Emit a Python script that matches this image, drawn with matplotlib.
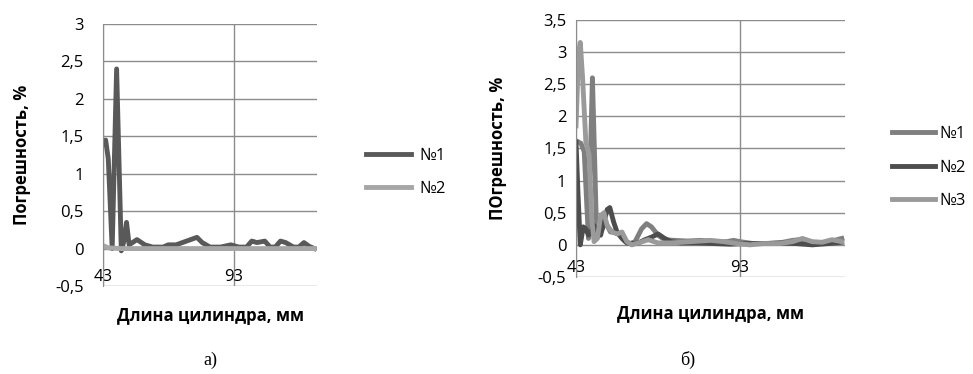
import matplotlib.pyplot as plt
from matplotlib.ticker import FuncFormatter

plt.rcParams['font.family'] = ['Open Sans', 'DejaVu Sans']

# chart a)
a_x1 = [43, 44, 45, 46.5, 48.2, 50, 51, 52, 53, 56, 59, 62, 66, 68, 71, 75, 79, 81, 84, 88,
        92, 95, 98, 100, 102, 105, 107, 109, 111, 113, 116, 118, 120, 122, 124]
a_y1 = [1.4, 1.45, 1.2, 0.0, 2.4, -0.03, 0.1, 0.35, 0.05, 0.12, 0.05, 0.02, 0.02, 0.05, 0.05, 0.1, 0.15, 0.08, 0.02, 0.02,
        0.05, 0.02, 0.02, 0.1, 0.08, 0.1, 0.02, 0.02, 0.1, 0.08, 0.02, 0.02, 0.08, 0.03, 0.0]
a_x2 = [43, 45, 50, 60, 80, 100, 124]
a_y2 = [0.04, 0.01, 0.0, 0.0, 0.0, 0.0, 0.0]

# chart б)
b_x1 = [43, 44.5, 45.5, 46.3, 46.8, 47.3, 48, 48.7, 49.3, 50.5, 52, 53.5, 55, 56.5, 58, 59.5, 61, 63, 64.5, 66,
        68, 70, 73, 77, 81, 85, 89, 91, 93, 97, 101, 105, 109, 111, 113, 116, 119, 121, 124]
b_y1 = [1.62, 1.58, 1.45, 0.6, 0.1, 1.2, 2.6, 1.3, 0.1, 0.2, 0.35, 0.2, 0.2, 0.15, 0.05, 0.02, 0.05, 0.25, 0.33, 0.28,
        0.15, 0.08, 0.07, 0.06, 0.07, 0.05, 0.05, 0.07, 0.05, 0.02, 0.02, 0.03, 0.07, 0.08, 0.06, 0.03, 0.03, 0.06, 0.1]
b_x2 = [43, 43.6, 44.3, 45.2, 46, 46.8, 47.5, 48.5, 49.5, 50.5, 51.5, 52.5, 53.3, 54.5, 55.5, 57, 58.5, 60, 62, 64,
        66, 68, 70, 72, 75, 80, 85, 90, 95, 100, 105, 110, 115, 120, 124]
b_y2 = [1.6, 0.8, 0.0, 0.28, 0.25, 0.15, 0.2, 0.3, 0.2, 0.15, 0.35, 0.55, 0.58, 0.35, 0.2, 0.1, 0.03, 0.02, 0.03, 0.08,
        0.12, 0.17, 0.1, 0.05, 0.03, 0.03, 0.02, 0.01, 0.02, 0.02, 0.03, 0.02, 0.0, 0.02, 0.04]
b_x3 = [43, 43.8, 44.3, 45, 46, 47, 47.8, 48.5, 49.5, 50.5, 51.5, 52.5, 54, 55.5, 57, 58.5, 60, 62, 65, 68,
        72, 78, 84, 88, 92, 96, 100, 105, 109, 112, 115, 118, 121, 124]
b_y3 = [1.85, 3.0, 3.15, 2.6, 1.6, 1.4, 0.4, 0.05, 0.1, 0.45, 0.5, 0.3, 0.2, 0.17, 0.2, 0.05, 0.0, 0.03, 0.08, 0.03,
        0.03, 0.05, 0.07, 0.05, 0.02, 0.0, 0.02, 0.02, 0.05, 0.1, 0.05, 0.04, 0.08, 0.05]

grid_c = '#8c8c8c'
fs = 12
fmt = FuncFormatter(lambda v, p: ('%g' % v).replace('.', ','))

fig = plt.figure(figsize=(9.73, 3.74), dpi=100)
ax1 = fig.add_axes([0.1059, 0.2353, 0.2199, 0.7005])
ax2 = fig.add_axes([0.592, 0.2594, 0.2765, 0.6872])


def style(ax, ytop, ypad, xlpad):
    ax.set_xlim(43, 125)
    ax.set_ylim(-0.5, ytop)
    ax.set_xticks([43, 93])
    ax.set_yticks([i * 0.5 - 0.5 for i in range(int(ytop * 2) + 2)])
    ax.yaxis.set_major_formatter(fmt)
    ax.grid(True, color=grid_c, lw=1)
    ax.set_axisbelow(True)
    for s in ['top', 'right', 'bottom']:
        ax.spines[s].set_visible(False)
    ax.spines['left'].set_color(grid_c)
    ax.tick_params(length=0, labelsize=fs)
    ax.tick_params(axis='y', pad=ypad)
    ax.tick_params(axis='x', pad=-12)
    ax.set_xlabel('Длина цилиндра, мм', fontsize=fs, fontweight='bold', labelpad=xlpad)


style(ax1, 3, 14, 15)
ax1.plot(a_x1, a_y1, color='#595959', lw=3.5, solid_joinstyle='round', label='№1')
ax1.plot(a_x2, a_y2, color='#a6a6a6', lw=3.5, solid_joinstyle='round', label='№2')
ax1.set_ylabel('Погрешность, %', fontsize=fs, fontweight='bold', labelpad=17)
ax1.legend(loc='upper left', bbox_to_anchor=(366 / 973, 1 - 148 / 374), bbox_transform=fig.transFigure,
           frameon=False, fontsize=fs, handlelength=2.7, handletextpad=0.5, labelspacing=1.0,
           borderpad=0, borderaxespad=0)

style(ax2, 3.5, 7, 20)
ax2.plot(b_x1, b_y1, color='#7f7f7f', lw=3.5, solid_joinstyle='round', label='№1')
ax2.plot(b_x2, b_y2, color='#4d4d4d', lw=3.5, solid_joinstyle='round', label='№2')
ax2.plot(b_x3, b_y3, color='#9a9a9a', lw=3.5, solid_joinstyle='round', label='№3')
ax2.set_ylabel('ПОгрешность, %', fontsize=fs, fontweight='bold', labelpad=22)
ax2.legend(loc='upper left', bbox_to_anchor=(892 / 973, 1 - 126 / 374), bbox_transform=fig.transFigure,
           frameon=False, fontsize=fs, handlelength=2.6, handletextpad=0.25, labelspacing=1.05,
           borderpad=0, borderaxespad=0)

fig.text(210 / 973, 1 - 360 / 374, 'а)', family='Liberation Serif', fontsize=13, ha='center', va='center')
fig.text(688 / 973, 1 - 360 / 374, 'б)', family='Liberation Serif', fontsize=13, ha='center', va='center')

fig.savefig('out.png', dpi=100)
